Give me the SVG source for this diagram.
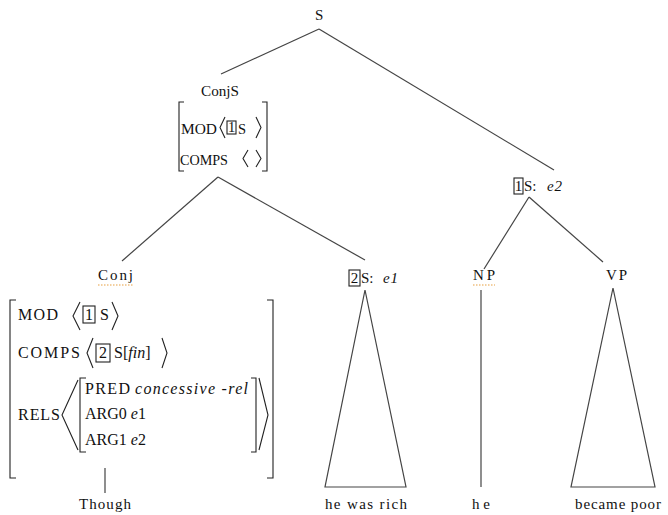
<svg xmlns="http://www.w3.org/2000/svg" width="668" height="515" viewBox="0 0 668 515" font-family="'Liberation Serif', 'DejaVu Serif', serif">
<style>
  text { font-family: 'Liberation Serif', 'DejaVu Serif', 'Noto Serif', serif; fill: #111; }
  .lbl { font-size: 15px; }
  .avm1 { font-size: 14.5px; }
  .avm2 { font-size: 16px; }
  .it { font-style: italic; }
  .ln { stroke: #444; stroke-width: 1.2; fill: none; }
  .br { stroke: #222; stroke-width: 1.1; fill: none; }
  .box { stroke: #222; stroke-width: 1.1; fill: none; }
  .sq { stroke: #e8a040; stroke-width: 1.2; stroke-dasharray: 1.5 1.5; fill: none; }
</style>
<rect width="668" height="515" fill="#fff"/>

<g id="connectors">
  <line class="ln" x1="319" y1="29" x2="221" y2="74"/>
  <line class="ln" x1="319" y1="29" x2="554" y2="170"/>
  <line class="ln" x1="218" y1="177" x2="122" y2="261"/>
  <line class="ln" x1="218" y1="177" x2="365" y2="260"/>
  <line class="ln" x1="529" y1="197" x2="484" y2="269"/>
  <line class="ln" x1="529" y1="197" x2="603" y2="262"/>
  <line class="ln" x1="105" y1="468" x2="105" y2="493"/>
  <line class="ln" x1="481" y1="290" x2="481" y2="487"/>
  <polygon class="ln" points="365,290 325,487 406,487"/>
  <polygon class="ln" points="613,288 571,487 655,487"/>
</g>

<g id="node-S">
  <text class="lbl" x="315" y="20">S</text>
</g>

<g id="node-ConjS">
  <text class="lbl" x="201" y="96" textLength="38" lengthAdjust="spacingAndGlyphs">ConjS</text>
  <path class="br" d="M184,102 H179 V171 H184"/>
  <path class="br" d="M262,102 H267 V171 H262"/>
  <text class="avm1" x="181" y="134" textLength="36" lengthAdjust="spacingAndGlyphs">MOD</text>
  <polyline class="br" points="225,117 220,127.5 225,138"/>
  <rect class="box" x="227" y="121" width="9" height="13"/>
  <text class="avm1" x="231.5" y="132" text-anchor="middle">1</text>
  <text class="avm1" x="238" y="134">S</text>
  <polyline class="br" points="256,117 261,127.5 256,138"/>
  <text class="avm1" x="180" y="165" textLength="48" lengthAdjust="spacingAndGlyphs">COMPS</text>
  <polyline class="br" points="248,150 243,158.5 248,167"/>
  <polyline class="br" points="256,150 261,158.5 256,167"/>
</g>

<g id="node-1S">
  <rect class="box" x="514" y="178" width="9" height="16"/>
  <text class="lbl" x="518.5" y="191" text-anchor="middle">1</text>
  <text class="lbl" x="524" y="191">S:</text>
  <text class="lbl it" x="547" y="191" textLength="15">e2</text>
</g>

<g id="node-Conj">
  <text class="lbl" x="98" y="280" textLength="35">Conj</text>
  <line class="sq" x1="98" y1="285" x2="133" y2="285"/>
  <path class="br" d="M16,300 H10 V478 H16"/>
  <path class="br" d="M267,300 H273 V478 H267"/>
  <text class="avm2" x="18" y="320" textLength="40">MOD</text>
  <polyline class="br" points="80,302 73,316 80,330"/>
  <rect class="box" x="83" y="306" width="12" height="17"/>
  <text class="avm2" x="89" y="320" text-anchor="middle">1</text>
  <text class="avm2" x="100" y="320">S</text>
  <polyline class="br" points="112,302 118,316 112,330"/>
  <text class="avm2" x="18" y="358" textLength="62">COMPS</text>
  <polyline class="br" points="93,338 87,353 93,368"/>
  <rect class="box" x="96" y="344" width="14" height="18"/>
  <text class="avm2" x="103" y="358" text-anchor="middle">2</text>
  <text class="avm2" x="114" y="358">S[<tspan class="it">fin</tspan>]</text>
  <polyline class="br" points="162,338 167,353 162,368"/>
  <text class="avm2" x="18" y="420" textLength="42">RELS</text>
  <polyline class="br" points="78,380 62,415 78,450"/>
  <path class="br" d="M86,378 H80 V452 H86"/>
  <text class="avm2" x="85" y="394" textLength="45">PRED</text>
  <text class="avm2 it" x="135" y="394" textLength="113">concessive -rel</text>
  <text class="avm2" x="85" y="419">ARG0 <tspan class="it">e</tspan>1</text>
  <text class="avm2" x="85" y="445">ARG1 <tspan class="it">e</tspan>2</text>
  <path class="br" d="M251,378 H256 V452 H251"/>
  <polyline class="br" points="259,378 268,415 259,450"/>
</g>

<g id="node-2S">
  <rect class="box" x="349" y="270" width="11" height="16"/>
  <text class="lbl" x="354.5" y="283" text-anchor="middle">2</text>
  <text class="lbl" x="361" y="283">S:</text>
  <text class="lbl it" x="383" y="283" textLength="15">e1</text>
</g>

<g id="node-NP">
  <text class="lbl" x="473" y="280" textLength="22">NP</text>
  <line class="sq" x1="473" y1="285" x2="495" y2="285"/>
</g>

<g id="node-VP">
  <text class="lbl" x="606" y="280" textLength="21">VP</text>
</g>

<g id="leaf-Though">
  <text class="lbl" x="105" y="509" text-anchor="middle" textLength="52">Though</text>
</g>
<g id="leaf-hewasrich">
  <text class="lbl" x="366" y="509" text-anchor="middle" textLength="82">he was rich</text>
</g>
<g id="leaf-he">
  <text class="lbl" x="481" y="509" text-anchor="middle" textLength="18">he</text>
</g>
<g id="leaf-becamepoor">
  <text class="lbl" x="618" y="509" text-anchor="middle" textLength="86">became poor</text>
</g>
</svg>
